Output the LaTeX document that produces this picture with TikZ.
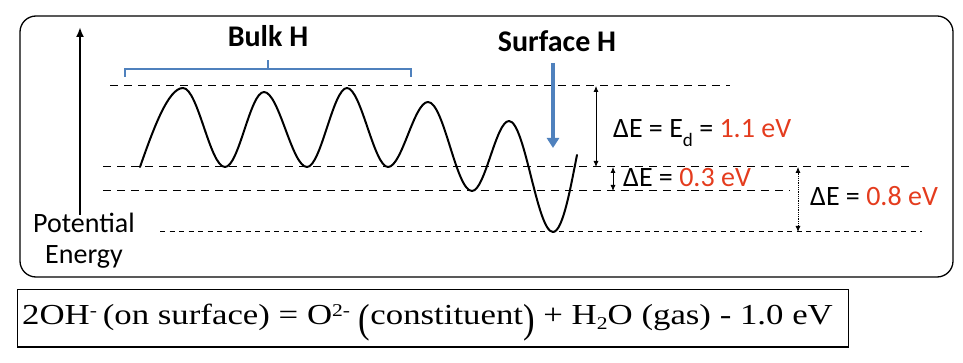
\documentclass[tikz,border=0pt]{standalone}
\usepackage{fontspec}
\setmainfont{Carlito}
\newfontfamily\eqfont{Liberation Serif}
\usetikzlibrary{arrows.meta}
\definecolor{hblue}{RGB}{79,129,189}
\definecolor{hred}{RGB}{228,60,30}
\tikzset{
  lbl/.style={inner sep=0pt, anchor=base west, font=\fontsize{28}{30}\selectfont},
  ttl/.style={inner sep=0pt, anchor=base, font=\fontsize{30}{32}\selectfont\bfseries},
  lvl/.style={line width=1pt, dash pattern=on 8pt off 6pt},
  lvlfine/.style={line width=1pt, dash pattern=on 5pt off 4.5pt},
  dimarrow/.style={line width=0.8pt, {Latex[length=6pt,width=5pt]}-{Latex[length=6pt,width=5pt]}},
  eqtxt/.style={inner sep=0pt, anchor=base west, font=\eqfont\fontsize{29}{31}\selectfont}
}
\newcommand{\redv}[1]{\textcolor{hred}{#1}}
\newcommand{\bigpar}[1]{\raisebox{-8pt}{\scalebox{1}[1.4]{#1}}}
\begin{document}
\begin{tikzpicture}[x=1pt,y=-1pt]
\useasboundingbox (0,0) rectangle (963,363);
% outer frame
\draw[line width=1.3pt, rounded corners=16pt] (20,16) rectangle (953,277);
% potential energy axis
\coordinate (pe0) at (80,215);
\coordinate (pe1) at (80,27);
\draw[line width=2.5pt, -{Latex[length=10pt,width=8pt]}] (pe0) -- (pe1);
\node[lbl] (pot) at (33,233) {Potential};
\node[lbl] (ene) at (45,263) {Energy};
% levels
\coordinate (l1a) at (110,86);  \coordinate (l1b) at (730,86);
\coordinate (l2a) at (103,167); \coordinate (l2b) at (911,167);
\coordinate (l3a) at (103,191); \coordinate (l3b) at (790,191);
\coordinate (l4a) at (160,232); \coordinate (l4b) at (922,232);
\draw[lvl] (l1a) -- (l1b);
\draw[lvl] (l2a) -- (l2b);
\draw[lvl] (l3a) -- (l3b);
\draw[lvlfine] (l4a) -- (l4b);
% potential curve
\draw[line width=2pt, line cap=round, line join=round]
  (140,167) .. controls (153,130) and (168,88) .. (183,88)
  .. controls (198,88) and (210,167) .. (225,167)
  .. controls (239,167) and (250,92) .. (264,92)
  .. controls (279,92) and (292,167) .. (307,167)
  .. controls (321,167) and (333,88) .. (347,88)
  .. controls (361,88) and (374,167) .. (388,167)
  .. controls (402,167) and (414,102) .. (428,102)
  .. controls (444,102) and (456,191) .. (472,191)
  .. controls (485,191) and (496,121) .. (509,121)
  .. controls (525,121) and (537,232) .. (553,232)
  .. controls (563,232) and (571,185) .. (577,155);
% bulk H brace
\draw[hblue, line width=2pt] (125,77) -- (125,69) -- (411,69) -- (411,77);
\draw[hblue, line width=2pt] (268,69) -- (268,60);
\node[ttl] (bulk) at (268,47) {Bulk H};
% surface H
\node[ttl] (surf) at (557,52) {Surface H};
\coordinate (sa0) at (553,63);
\coordinate (sa1) at (553,148);
\draw[hblue, line width=4pt, -{Triangle[length=10pt,width=12pt]}] (sa0) -- (sa1);
% dimension arrows
\coordinate (d1a) at (596,86);  \coordinate (d1b) at (596,167);
\coordinate (d2a) at (613,167); \coordinate (d2b) at (613,191);
\coordinate (d3a) at (798,167); \coordinate (d3b) at (798,232);
\draw[dimarrow] (d1a) -- (d1b);
\draw[dimarrow] (d2a) -- (d2b);
\draw[dimarrow, densely dotted] (d3a) -- (d3b);
\node[lbl] (e1) at (613,138) {ΔE = E\raisebox{-0.6ex}{\fontsize{19}{20}\selectfont d} = \redv{1.1 eV}};
\node[lbl] (e2) at (623,187) {ΔE = \redv{0.3 eV}};
\node[lbl] (e3) at (810,206) {ΔE = \redv{0.8 eV}};
% equation box
\draw[line width=1pt] (17,289) rectangle (848,347);
\draw[line width=2.2pt] (17,347) -- (848,347);
\node[eqtxt] (eq) at (22,324) {\scalebox{1.2}[1]{2OH\raisebox{0.6ex}{\fontsize{18}{18}\selectfont -}\,(on surface) = O\raisebox{0.6ex}{\fontsize{18}{18}\selectfont 2-} \bigpar{(}constituent\bigpar{)} + H\raisebox{-0.45ex}{\fontsize{18}{18}\selectfont 2}O (gas) - 1.0 eV}};
\end{tikzpicture}
\end{document}
